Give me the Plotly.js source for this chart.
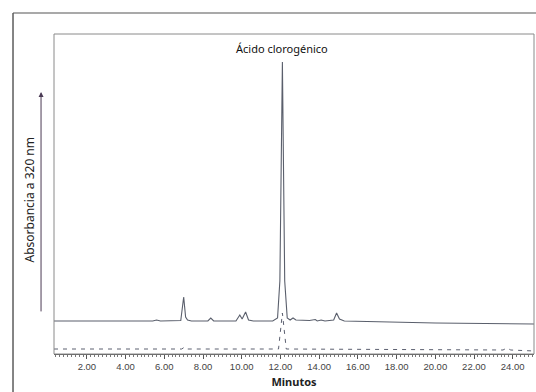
<!DOCTYPE html>
<html>
<head>
<meta charset="utf-8">
<script src="https://cdn.plot.ly/plotly-3.0.1.min.js"></script>
<style>html,body{margin:0;padding:0;background:#fff;}#chart{width:536px;height:392px;}</style>
</head>
<body>
<div id="chart"></div>
<script>
// Retention time (min) and absorbance (relative units)
const sampleTime = [0.3, 5.4, 5.6, 5.8, 6.85, 7.0, 7.1, 7.2, 7.4, 8.25, 8.4, 8.55, 9.7, 9.9, 10.02, 10.2, 10.35, 10.6, 11.6, 11.85, 11.97, 12.1, 12.22, 12.35, 12.5, 12.65, 12.8, 13.5, 13.8, 13.9, 14.1, 14.3, 14.75, 14.9, 15.05, 15.3, 20.0, 25.1];
const sampleAbs  = [0, 0, 1, 0, 0.5, 24, 4, 1, 0, 0, 3, 0, 0, 6, 2, 9, 1, 0, 0, 3, 40, 259, 40, 3, 1, 3, 1, 0.5, 1.5, 0, 1, 0, 1, 8, 2, 0, -2, -3];

const blankTime = [0.3, 6.9, 7.05, 7.2, 11.9, 12.1, 12.3, 23.5, 23.7, 23.9, 25.1];
const blankAbs  = [-28, -28, -26, -28, -28, 8, -28, -29, -27, -29, -30];

const tickValues = [2, 4, 6, 8, 10, 12, 14, 16, 18, 20, 22, 24];
const tickLabels = ["2.00", "4.00", "6.00", "8.00", "10.00", "12.00", "14.00", "16.00", "18.00", "20.00", "22.00", "24.00"];

const peakLabel = "Ácido clorogénico";
const peakTime = 12.1;
const xTitle = "Minutos";
const yTitle = "Absorbancia a 320 nm";

const traces = [
  {x: sampleTime, y: sampleAbs, type: 'scatter', mode: 'lines',
   line: {color: '#5a5f6c', width: 1.1}, hoverinfo: 'skip'},
  {x: blankTime, y: blankAbs, type: 'scatter', mode: 'lines',
   line: {color: '#5c6070', width: 1, dash: '4px,5px'}, hoverinfo: 'skip'}
];

const layout = {
  width: 536, height: 392,
  margin: {l: 54, r: 2, t: 34, b: 38},
  paper_bgcolor: '#ffffff', plot_bgcolor: '#ffffff',
  showlegend: false,
  font: {family: 'Noto Sans, Arial, sans-serif', color: '#333'},
  xaxis: {
    range: [0.3, 25.1], showgrid: false, zeroline: false,
    tickmode: 'array', tickvals: tickValues, ticktext: tickLabels,
    ticks: 'outside', ticklen: 4, tickcolor: '#555', tickwidth: 1,
    minor: {dtick: 0.2, ticks: 'outside', ticklen: 2, tickcolor: '#777'},
    showline: true, linecolor: '#555', linewidth: 1, mirror: false,
    tickfont: {family: 'Liberation Sans Narrow, Arial Narrow, Liberation Sans, sans-serif', size: 9.5, color: '#444'},
    title: {text: xTitle, font: {family: 'Noto Sans, sans-serif', size: 11, color: '#222', weight: 'bold'}, standoff: 6}
  },
  yaxis: {
    range: [-33, 287], showgrid: false, zeroline: false,
    showticklabels: false, ticks: '', showline: false
  },
  shapes: [
    {type: 'rect', xref: 'paper', yref: 'paper', x0: 0, x1: 1, y0: 0, y1: 1,
     line: {color: '#8a8a8a', width: 1}},
    {type: 'line', xref: 'paper', yref: 'paper', x0: -0.0854, x1: -0.0854, y0: 1.0656, y1: -0.13,
     line: {color: '#333', width: 1.2}},
    {type: 'line', xref: 'paper', yref: 'paper', x0: -0.0854, x1: 1.01, y0: 1.0656, y1: 1.0656,
     line: {color: '#555', width: 1.2}}
  ],
  annotations: [
    {x: peakTime, y: 287, xref: 'x', yref: 'y', yshift: -14, text: peakLabel, showarrow: false,
     xanchor: 'center', font: {family: 'Noto Sans, sans-serif', size: 11, color: '#111'}},
    {x: -0.052, y: 0.48, xref: 'paper', yref: 'paper', text: yTitle, textangle: -90, showarrow: false,
     xanchor: 'center', yanchor: 'middle',
     font: {family: 'Noto Sans, sans-serif', size: 12, color: '#222'}},
    {x: -0.027, y: 0.819, xref: 'paper', yref: 'paper', text: '', showarrow: true,
     ax: 0, ay: 221, arrowhead: 2, arrowsize: 1, arrowwidth: 1, arrowcolor: '#4b3b55'}
  ]
};

Plotly.newPlot('chart', traces, layout, {staticPlot: true, displayModeBar: false});
</script>
</body>
</html>
